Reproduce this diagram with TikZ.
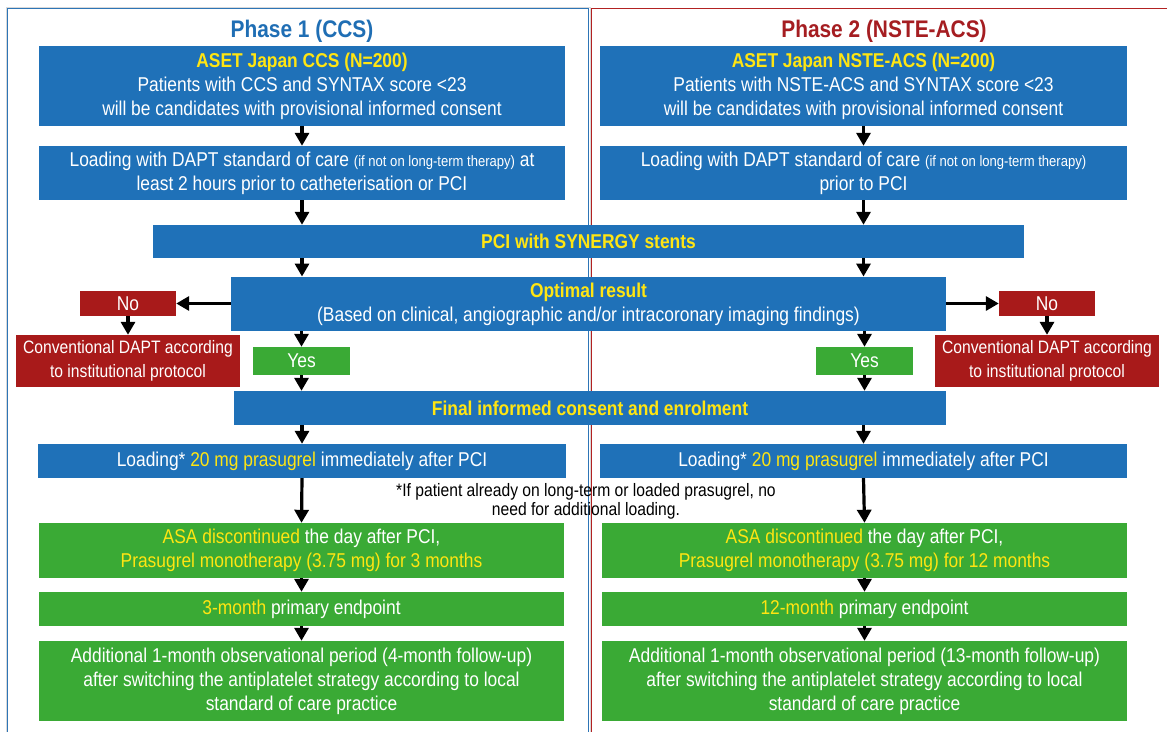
\documentclass[tikz,border=0pt]{standalone}
\usepackage{fontspec}
\setmainfont{Liberation Sans}[FakeStretch=0.87]
\usetikzlibrary{arrows.meta}
\definecolor{cblue}{HTML}{1F71B8}
\definecolor{cgreen}{HTML}{3AAA35}
\definecolor{cred}{HTML}{A81A1A}
\definecolor{cyel}{HTML}{FFE512}
\definecolor{tblue}{HTML}{1F6EB4}
\definecolor{tred}{HTML}{A51D21}
\definecolor{fblue}{HTML}{2E75B6}
\definecolor{fred}{HTML}{B22222}
\newcommand{\yl}[1]{\textcolor{cyel}{#1}}
\newcommand{\smalltxt}{\fontsize{15}{24}\selectfont}
\begin{document}
\begin{tikzpicture}[x=1pt,y=-1pt,
  boxbase/.style={inner sep=0pt, align=center, text=white, font=\fontsize{20}{24}\selectfont},
  bbox/.style={boxbase, fill=cblue},
  gbox/.style={boxbase, fill=cgreen},
  rbox/.style={boxbase, fill=cred},
  arr/.style={-{Triangle[length=13pt,width=14pt]}, line width=3.2pt, black},
  ttl/.style={font=\fontsize{24}{28}\selectfont\bfseries}
]
\useasboundingbox (0,0) rectangle (1167,731);
\clip (0,0) rectangle (1167,731);
\fill[white] (0,0) rectangle (1167,731);
% frames
\draw[black!15, line width=1pt] (6,7) rectangle (590,760);
\draw[fblue, line width=1.6pt] (7.5,8.5) rectangle (588.5,760);
\draw[fred, line width=1.6pt] (591.5,8.5) rectangle (1180,760);
% titles
\node[ttl, text=tblue] (t1) at (302,31) {Phase 1 (CCS)};
\node[ttl, text=tred] (t2) at (884,31) {Phase 2 (NSTE-ACS)};
% left column
\node[bbox, minimum width=526pt, minimum height=80pt] (l1) at (302,86)
  {\textbf{\yl{ASET Japan CCS (N=200)}}\\Patients with CCS and SYNTAX score <23\\will be candidates with provisional informed consent};
\node[bbox, minimum width=526pt, minimum height=54pt] (l2) at (302,173)
  {Loading with DAPT standard of care {\smalltxt(if not on long-term therapy)} at\\least 2 hours prior to catheterisation or PCI};
% right column
\node[bbox, minimum width=527pt, minimum height=80pt] (r1) at (863.5,86)
  {\textbf{\yl{ASET Japan NSTE-ACS (N=200)}}\\Patients with NSTE-ACS and SYNTAX score <23\\will be candidates with provisional informed consent};
\node[bbox, minimum width=527pt, minimum height=54pt] (r2) at (863.5,173)
  {Loading with DAPT standard of care {\smalltxt(if not on long-term therapy)}\\prior to PCI};
% shared
\node[bbox, minimum width=871pt, minimum height=33pt] (pci) at (588.5,241.5)
  {\textbf{\yl{PCI with SYNERGY stents}}};
\node[bbox, minimum width=715pt, minimum height=54.5pt] (opt) at (588.5,304)
  {\textbf{\yl{Optimal result}}\\(Based on clinical, angiographic and/or intracoronary imaging findings)};
\node[rbox, minimum width=96pt, minimum height=25pt] (noL) at (128,303.5) {No};
\node[rbox, minimum width=96pt, minimum height=25pt] (noR) at (1047,303.5) {No};
\node[rbox, minimum width=224pt, minimum height=51.5pt, font=\fontsize{18}{24}\selectfont] (cvL) at (128,360.75)
  {Conventional DAPT according\\to institutional protocol};
\node[rbox, minimum width=224pt, minimum height=51.5pt, font=\fontsize{18}{24}\selectfont] (cvR) at (1047,360.75)
  {Conventional DAPT according\\to institutional protocol};
\node[gbox, minimum width=97pt, minimum height=28pt] (yL) at (301.5,361) {Yes};
\node[gbox, minimum width=97pt, minimum height=28pt] (yR) at (864.5,361) {Yes};
\node[bbox, minimum width=712pt, minimum height=34pt] (fin) at (590,408)
  {\textbf{\yl{Final informed consent and enrolment}}};
% lower left
\node[bbox, minimum width=528pt, minimum height=34pt] (l3) at (302,461)
  {Loading* \yl{20 mg prasugrel} immediately after PCI};
\node[gbox, minimum width=525pt, minimum height=55pt] (l4) at (301.5,550.5)
  {\yl{ASA discontinued} the day after PCI,\\\yl{Prasugrel monotherapy (3.75 mg) for 3 months}};
\node[gbox, minimum width=525pt, minimum height=34pt] (l5) at (301.5,609)
  {\yl{3-month} primary endpoint};
\node[gbox, minimum width=525pt, minimum height=80pt] (l6) at (301.5,681)
  {Additional 1-month observational period (4-month follow-up)\\after switching the antiplatelet strategy according to local\\standard of care practice};
% lower right
\node[bbox, minimum width=527pt, minimum height=34pt] (r3) at (863.5,461)
  {Loading* \yl{20 mg prasugrel} immediately after PCI};
\node[gbox, minimum width=525pt, minimum height=55pt] (r4) at (864.5,550.5)
  {\yl{ASA discontinued} the day after PCI,\\\yl{Prasugrel monotherapy (3.75 mg) for 12 months}};
\node[gbox, minimum width=525pt, minimum height=34pt] (r5) at (864.5,609)
  {\yl{12-month} primary endpoint};
\node[gbox, minimum width=525pt, minimum height=80pt] (r6) at (864.5,681)
  {Additional 1-month observational period (13-month follow-up)\\after switching the antiplatelet strategy according to local\\standard of care practice};
% footnote
\node[align=center, inner sep=0pt, font=\fontsize{18}{19}\selectfont] (fn) at (586,501)
  {*If patient already on long-term or loaded prasugrel, no\\need for additional loading.};
% arrows left
\draw[arr] (l1.south) -- (l2.north);
\draw[arr] (l2.south) -- (l2.south |- pci.north);
\draw[arr] (l2.south |- pci.south) -- (l2.south |- opt.north);
\draw[arr] (yL.north |- opt.south) -- (yL.north);
\draw[arr] (yL.south) -- (yL.south |- fin.north);
\draw[arr] (l3.north |- fin.south) -- (l3.north);
\draw[arr] (l3.south) -- (l4.north);
\draw[arr] (l4.south) -- (l5.north);
\draw[arr] (l5.south) -- (l6.north);
\draw[arr] (opt.west |- noL) -- (noL.east);
\draw[arr] (noL.south) -- (cvL.north);
% arrows right
\draw[arr] (r1.south) -- (r2.north);
\draw[arr] (r2.south) -- (r2.south |- pci.north);
\draw[arr] (r2.south |- pci.south) -- (r2.south |- opt.north);
\draw[arr] (yR.north |- opt.south) -- (yR.north);
\draw[arr] (yR.south) -- (yR.south |- fin.north);
\draw[arr] (r3.north |- fin.south) -- (r3.north);
\draw[arr] (r3.south) -- (r4.north);
\draw[arr] (r4.south) -- (r5.north);
\draw[arr] (r5.south) -- (r6.north);
\draw[arr] (opt.east |- noR) -- (noR.west);
\draw[arr] (noR.south) -- (cvR.north);
\end{tikzpicture}
\end{document}
